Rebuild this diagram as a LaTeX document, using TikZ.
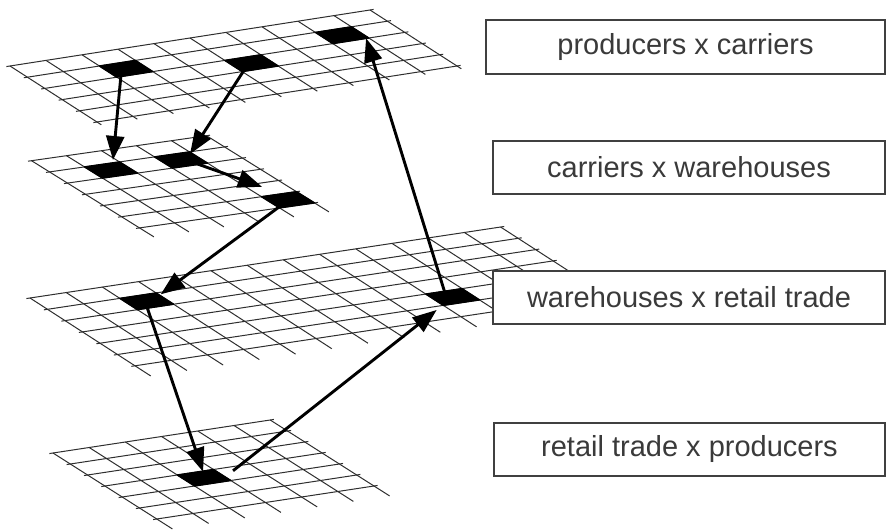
\documentclass[tikz,border=0pt]{standalone}
\usepackage{fontspec}
\setmainfont{Liberation Sans}
\usetikzlibrary{arrows.meta,calc}

\definecolor{gridink}{HTML}{2E2E2E}
\definecolor{labelink}{HTML}{3A3A3A}
\definecolor{boxink}{HTML}{404040}

% A slanted sheet of cells.
% #1,#2 back-left corner; #3,#4 column step; #5,#6 row step;
% #7 columns; #8 rows; #9 how far the row-direction lines run past the last row
\newcommand\gridsheet[9]{%
  \foreach \j in {0,...,#8}{
    \draw[sheetline] ({#1+\j*(#5)-0.1*(#3)},{#2+\j*(#6)-0.1*(#4)})
      -- ++({(#7+0.2)*(#3)},{(#7+0.2)*(#4)});
  }
  \foreach \i in {0,...,#7}{
    \draw[sheetline] ({#1+\i*(#3)},{#2+\i*(#4)})
      -- ++({(#8+#9)*(#5)},{(#8+#9)*(#6)});
  }
}

% A filled cell of a sheet, named #1 at its centre.
% #2,#3 back-left corner of the sheet; #4,#5 column step; #6,#7 row step; #8 column; #9 row
\newcommand\blackcell[9]{%
  \coordinate (#1) at ({#2+(#8+0.5)*(#4)+(#9+0.5)*(#6)},{#3+(#8+0.5)*(#5)+(#9+0.5)*(#7)});
  \filldraw[cellink] ({#2+(#8)*(#4)+(#9)*(#6)},{#3+(#8)*(#5)+(#9)*(#7)})
    -- ++({#4},{#5}) -- ++({#6},{#7}) -- ++({-1*(#4)},{-1*(#5)}) -- cycle;
}

\begin{document}
\begin{tikzpicture}[x=1pt,y=-1pt,
  sheetline/.style={draw=gridink,line width=1pt},
  cellink/.style={fill=black,draw=black,line width=1.4pt,line join=round},
  flow/.style={draw=black,line width=2.9pt,-{Triangle[length=24pt,width=18pt]}},
  labelbox/.style={draw=boxink,fill=white,line width=1.3pt,inner sep=0pt,
    text=labelink,font=\fontsize{29}{34}\selectfont,minimum height=53pt}]

\useasboundingbox (0,0) rectangle (887,532);

% sheets, top to bottom
\gridsheet{10}{66}{36}{-5.6}{17.4}{11.2}{10}{5}{0.25}
\gridsheet{31.5}{160.7}{35}{-5}{18}{11.2}{5}{6}{0.8}
\gridsheet{30}{298}{36.2}{-5.46}{17.5}{11.3}{13}{6}{0.9}
\gridsheet{53}{453}{36.2}{-5.5}{17.3}{11}{6}{6}{0.9}

% marked cells
\blackcell{A}{10}{66}{36}{-5.6}{17.4}{11.2}{2}{1}
\blackcell{B}{10}{66}{36}{-5.6}{17.4}{11.2}{5}{2}
\blackcell{C}{10}{66}{36}{-5.6}{17.4}{11.2}{8}{1}
\blackcell{D}{31.5}{160.7}{35}{-5}{18}{11.2}{1}{1}
\blackcell{E}{31.5}{160.7}{35}{-5}{18}{11.2}{3}{1}
\blackcell{F}{31.5}{160.7}{35}{-5}{18}{11.2}{4}{5}
\blackcell{G}{30}{298}{36.2}{-5.46}{17.5}{11.3}{2}{1}
\blackcell{H}{30}{298}{36.2}{-5.46}{17.5}{11.3}{9}{4}
\blackcell{I}{53}{453}{36.2}{-5.5}{17.3}{11}{2}{3}

% flows between the marked cells
\draw[flow] ($(A)+(-5,5)$) -- ($(D)+(2,-10)$);
\draw[flow] ($(B)+(-5.5,4)$) -- ($(E)+(9,-6)$);
\draw[flow] ($(E)+(8,1)$) -- ($(F)+(-26,-13)$);
\draw[flow] ($(F)+(-6,5)$) -- ($(G)+(14,-7)$);
\draw[flow] ($(G)+(0,5)$) -- ($(I)+(-1,-6)$);
\draw[flow] ($(I)+(29,-7)$) -- ($(H)+(-16,13)$);
\draw[flow] ($(H)+(-8,-5)$) -- ($(C)+(24,3)$);

% labels
\node[labelbox,minimum width=399pt,minimum height=54pt] (pc) at (685.5,47) {producers x carriers};
\node[labelbox,minimum width=392pt] (cw) at (689,167.5) {carriers x warehouses};
\node[labelbox,minimum width=392pt] (wr) at (689,297.5) {warehouses x retail trade};
\node[labelbox,minimum width=391pt] (rp) at (689.5,449.5) {retail trade x producers};

\end{tikzpicture}
\end{document}
